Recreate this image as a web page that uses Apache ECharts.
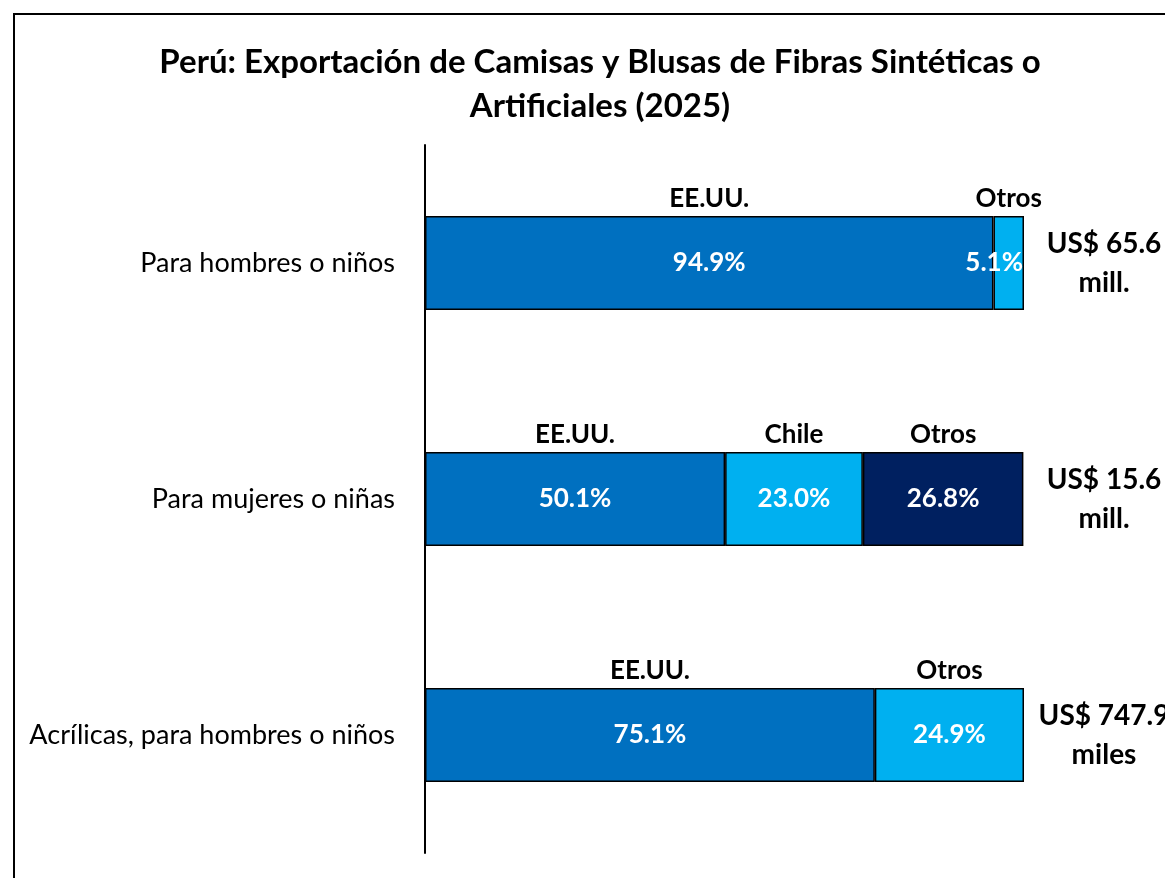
<!DOCTYPE html>
<html>
<head>
<meta charset="utf-8">
<script src="https://cdn.jsdelivr.net/npm/echarts@6/dist/echarts.min.js"></script>
<style>
	html, body { margin: 0; padding: 0; background: #fff; }
	#chart { width: 1165px; height: 878px; }
</style>
</head>
<body>
<div id="chart"></div>
<script>
// categories, top to bottom
const categories = ["Para hombres o niños", "Para mujeres o niñas", "Acrílicas, para hombres o niños"];
const totals = ["US$ 65.6\nmill.", "US$ 15.6\nmill.", "US$ 747.9\nmiles"];

// share by destination (%)
const seg1 = [94.9, 50.1, 75.1];
const seg2 = [5.1, 23.0, 24.9];
const seg3 = [null, 26.8, null];

// destination names shown above each segment
const names1 = ["EE.UU.", "EE.UU.", "EE.UU."];
const names2 = ["Otros", "Chile", "Otros"];
const names3 = ["", "Otros", ""];

const colors = ["#0070C0", "#00B0F0", "#002060"];
const FONT = "Lato, 'Open Sans', sans-serif";

const chart = echarts.init(document.getElementById("chart"));

function visible(values, color) {
	return {
		type: "bar",
		stack: "share",
		barWidth: 94,
		data: values.map((v) =>
			// narrow segments: keep the label against the right edge
			v !== null && v < 10 ? { value: v, label: { position: "insideRight", distance: 1 } } : v
		),
		itemStyle: { color: color, borderColor: "#000", borderWidth: 1.5 },
		label: {
			show: true,
			position: "inside",
			color: "#fff",
			fontFamily: FONT,
			fontWeight: "bold",
			fontSize: 26,
			formatter: (p) => p.value.toFixed(1) + "%"
		}
	};
}

function header(values, names) {
	return {
		type: "bar",
		stack: "names",
		barWidth: 94,
		barGap: "-100%",
		silent: true,
		data: values,
		itemStyle: { color: "transparent" },
		label: {
			show: true,
			position: "top",
			distance: 4,
			color: "#000",
			fontFamily: FONT,
			fontWeight: "bold",
			fontSize: 26,
			formatter: (p) => names[p.dataIndex]
		}
	};
}

const option = {
	animation: false,
	title: {
		text: "Perú: Exportación de Camisas y Blusas de Fibras Sintéticas o\nArtificiales (2025)",
		left: 595,
		top: 35,
		textAlign: "center",
		textStyle: {
			fontFamily: FONT,
			fontWeight: "bold",
			fontSize: 33,
			lineHeight: 44,
			color: "#000"
		}
	},
	graphic: [
		{
			type: "rect",
			shape: { x: 14, y: 14, width: 1300, height: 1000 },
			style: { fill: "none", stroke: "#000", lineWidth: 2 },
			silent: true
		}
	],
	grid: { left: 425, right: 141, top: 145, bottom: 25, outerBoundsMode: "none", containLabel: false },
	xAxis: {
		type: "value",
		min: 0,
		max: 100,
		show: false
	},
	yAxis: [
		{
			type: "category",
			data: categories,
			inverse: true,
			axisLine: { show: true, lineStyle: { color: "#000", width: 2 } },
			axisTick: { show: false },
			axisLabel: {
				margin: 30,
				color: "#000",
				fontFamily: FONT,
				fontSize: 27
			}
		},
		{
			type: "category",
			data: totals,
			inverse: true,
			position: "right",
			axisLine: { show: false },
			axisTick: { show: false },
			axisLabel: {
				margin: 80,
				align: "center",
				color: "#000",
				fontFamily: FONT,
				fontWeight: "bold",
				fontSize: 28,
				lineHeight: 39
			}
		}
	],
	series: [
		visible(seg1, colors[0]),
		visible(seg2, colors[1]),
		visible(seg3, colors[2]),
		header(seg1, names1),
		header(seg2, names2),
		header(seg3, names3)
	]
};

chart.setOption(option);
</script>
</body>
</html>
